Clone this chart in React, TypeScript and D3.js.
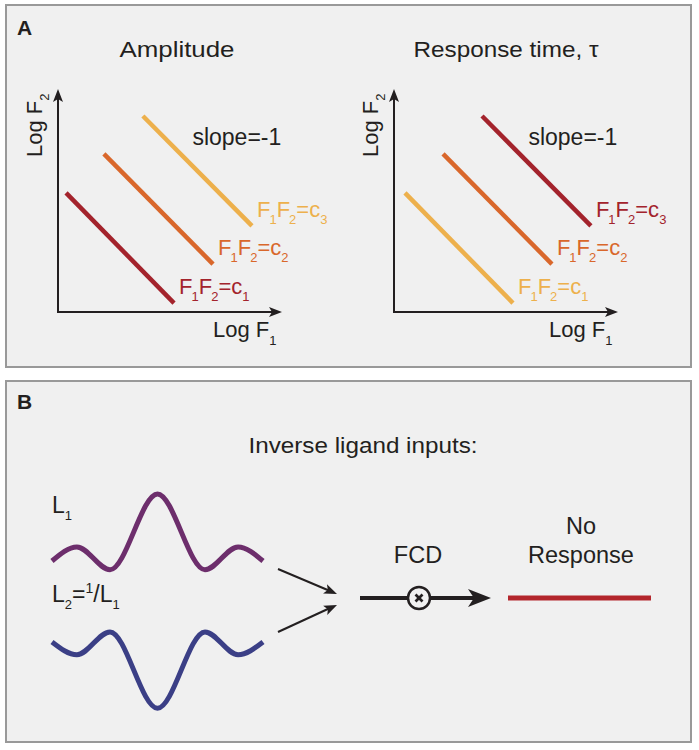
import React from "react";
import * as d3 from "d3";

// ---------- Data ----------
// Panel A: iso-lines F1*F2 = c (slope -1 in log-log space), in axis units [0..10]
const contourNames = ["c1", "c2", "c3"];
const amplitudeStart = [[0.36, 5.34], [2.05, 7.09], [3.79, 8.79]];
const amplitudeEnd = [[5.18, 0.4], [6.92, 2.15], [8.66, 3.86]];
const responseStart = [[0.49, 5.34], [2.19, 7.09], [3.93, 8.79]];
const responseEnd = [[5.31, 0.4], [7.05, 2.15], [8.79, 3.86]];
const amplitudeColors = ["#A3232C", "#D9672B", "#EDB04C"];
const responseColors = ["#EDB04C", "#D9672B", "#A3232C"];
const panelTitles = ["Amplitude", "Response time, \u03c4"];

// Panel B: ligand waveforms (relative units)
const waveT = [0, 0.118, 0.275, 0.5, 0.725, 0.882, 1];
const waveL1 = [0, 0.21, -0.13, 1, -0.13, 0.21, 0];
const waveL2 = [0, -0.19, 0.15, -0.99, 0.15, -0.19, 0];
const responseLevel = [0, 0];

const FONT = "'Liberation Sans', Arial, Helvetica, sans-serif";
const INK = "#231f20";

function Arrowhead({ x, y, angle, len, half, notch, fill = INK }: any) {
  const p = d3.path();
  p.moveTo(0, 0);
  p.lineTo(-len, -half);
  p.lineTo(-len + notch, 0);
  p.lineTo(-len, half);
  p.closePath();
  return <path d={p.toString()} fill={fill} transform={`translate(${x},${y}) rotate(${angle})`} />;
}

function IsoLabel({ x, y, name, color }: any) {
  const idx = name.slice(1);
  return (
    <text x={x} y={y} fill={color} fontSize={22} fontFamily={FONT}>
      F<tspan fontSize={13} dy={7} dx={-1}>1</tspan>
      <tspan dy={-7}>F</tspan>
      <tspan fontSize={13} dy={7} dx={-1}>2</tspan>
      <tspan dy={-7}>=c</tspan>
      <tspan fontSize={13} dy={7}>{idx}</tspan>
    </text>
  );
}

function LogPlot({ x0, title, titleX, titleW, starts, ends, colors }: any) {
  const xs = d3.scaleLinear().domain([0, 10]).range([x0, x0 + 224]);
  const ys = d3.scaleLinear().domain([0, 10]).range([312, 89]);
  return (
    <g>
      <text x={titleX} y={57} textAnchor="middle" fontSize={21.5} fontFamily={FONT} fill={INK}
        textLength={titleW} lengthAdjust="spacingAndGlyphs">{title}</text>
      {/* axes */}
      <line x1={xs(0)} y1={ys(0)} x2={xs(0)} y2={ys(10) + 8} stroke={INK} strokeWidth={2} />
      <line x1={xs(0) - 1} y1={ys(0)} x2={xs(10) - 8} y2={ys(0)} stroke={INK} strokeWidth={2} />
      <Arrowhead x={xs(0)} y={ys(10)} angle={-90} len={13} half={5} notch={3} />
      <Arrowhead x={xs(10)} y={ys(0)} angle={0} len={13} half={5} notch={3} />
      {/* iso lines */}
      {starts.map((s: number[], i: number) => (
        <line key={i} x1={xs(s[0])} y1={ys(s[1])} x2={xs(ends[i][0])} y2={ys(ends[i][1])}
          stroke={colors[i]} strokeWidth={4.5} />
      ))}
      {starts.map((s: number[], i: number) => (
        <IsoLabel key={"l" + i} x={xs(ends[i][0]) + 5} y={ys(ends[i][1]) - 9} name={contourNames[i]} color={colors[i]} />
      ))}
      <text x={xs(6.0)} y={145} fontSize={23} fontFamily={FONT} fill={INK}>slope=-1</text>
      <text x={xs(6.92)} y={337} fontSize={22} fontFamily={FONT} fill={INK}>
        Log F<tspan fontSize={13} dy={8}>1</tspan>
      </text>
      <text transform={`translate(${x0 - 16},157) rotate(-90)`} fontSize={22} fontFamily={FONT} fill={INK}>
        Log F<tspan fontSize={13} dy={7}>2</tspan>
      </text>
    </g>
  );
}

export default function App() {
  const W = 699, H = 750;
  const wx = d3.scaleLinear().domain([0, 1]).range([52, 263]);
  const y1 = d3.scaleLinear().domain([0, 1]).range([561, 494]);
  const y2 = d3.scaleLinear().domain([0, 1]).range([642, 575]);
  const line1 = d3.line<number>().x((_, i) => wx(waveT[i])).y((v) => y1(v)).curve(d3.curveMonotoneX);
  const line2 = d3.line<number>().x((_, i) => wx(waveT[i])).y((v) => y2(v)).curve(d3.curveMonotoneX);
  const rx = d3.scaleLinear().domain([0, 1]).range([508, 651]);
  const fcdY = 598;

  return (
    <svg width={W} height={H} style={{ position: "absolute", left: 0, top: 0 }}>
      <rect x={0} y={0} width={W} height={H} fill="#ffffff" />
      {/* Panel A */}
      <rect x={6} y={5} width={685} height={362} fill="#f0f0f0" stroke="#999999" strokeWidth={2} />
      <text x={17} y={35} fontSize={21} fontWeight="bold" fontFamily={FONT} fill={INK}>A</text>
      <LogPlot x0={58} title={panelTitles[0]} titleX={177} titleW={115} starts={amplitudeStart} ends={amplitudeEnd} colors={amplitudeColors} />
      <LogPlot x0={394} title={panelTitles[1]} titleX={506} titleW={185} starts={responseStart} ends={responseEnd} colors={responseColors} />

      {/* Panel B */}
      <rect x={6} y={381} width={685} height={361} fill="#f0f0f0" stroke="#999999" strokeWidth={2} />
      <text x={17} y={409} fontSize={21} fontWeight="bold" fontFamily={FONT} fill={INK}>B</text>
      <text x={363} y={453} textAnchor="middle" fontSize={21.5} fontFamily={FONT} fill={INK}
        textLength={229} lengthAdjust="spacingAndGlyphs">Inverse ligand inputs:</text>

      <text x={52} y={513} fontSize={23} fontFamily={FONT} fill={INK}>
        L<tspan fontSize={13} dy={7}>1</tspan>
      </text>
      <text x={52} y={602} fontSize={23} fontFamily={FONT} fill={INK}>
        L<tspan fontSize={13} dy={7}>2</tspan>
        <tspan dy={-7}>=</tspan>
        <tspan fontSize={14} dy={-9}>1</tspan>
        <tspan dy={9}>/L</tspan>
        <tspan fontSize={13} dy={7}>1</tspan>
      </text>

      <path d={line1(waveL1) || ""} fill="none" stroke="#6D2E6C" strokeWidth={5} strokeLinecap="butt" />
      <path d={line2(waveL2) || ""} fill="none" stroke="#3B3F86" strokeWidth={5} strokeLinecap="butt" />

      {/* converging arrows */}
      <line x1={278} y1={569} x2={330} y2={591} stroke={INK} strokeWidth={2} />
      <Arrowhead x={337} y={594} angle={(Math.atan2(25, 59) * 180) / Math.PI} len={13} half={5} notch={3} />
      <line x1={278} y1={632} x2={330} y2={608} stroke={INK} strokeWidth={2} />
      <Arrowhead x={337} y={605} angle={(Math.atan2(-27, 59) * 180) / Math.PI} len={13} half={5} notch={3} />

      {/* FCD */}
      <text x={418} y={563} textAnchor="middle" fontSize={23.5} fontFamily={FONT} fill={INK}>FCD</text>
      <line x1={360} y1={fcdY} x2={480} y2={fcdY} stroke={INK} strokeWidth={4} />
      <Arrowhead x={491} y={fcdY} angle={0} len={23} half={9} notch={6} />
      <circle cx={419} cy={fcdY} r={11} fill="#f0f0f0" stroke={INK} strokeWidth={2.5} />
      <line x1={415.5} y1={fcdY - 3.5} x2={422.5} y2={fcdY + 3.5} stroke={INK} strokeWidth={2.6} />
      <line x1={415.5} y1={fcdY + 3.5} x2={422.5} y2={fcdY - 3.5} stroke={INK} strokeWidth={2.6} />

      {/* No response */}
      <text x={581} y={534} textAnchor="middle" fontSize={23.5} fontFamily={FONT} fill={INK}>No</text>
      <text x={581} y={563} textAnchor="middle" fontSize={23.5} fontFamily={FONT} fill={INK}>Response</text>
      <line x1={rx(0)} y1={fcdY + responseLevel[0]} x2={rx(1)} y2={fcdY + responseLevel[1]} stroke="#B3262C" strokeWidth={5} />
    </svg>
  );
}
